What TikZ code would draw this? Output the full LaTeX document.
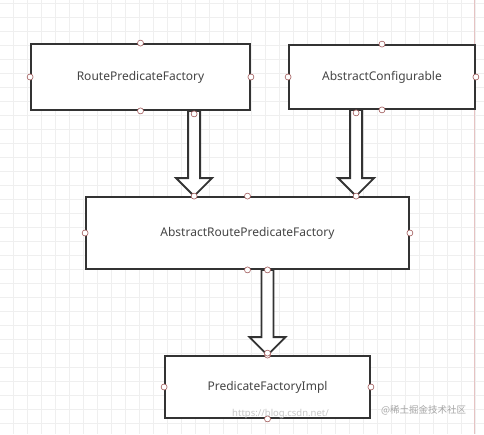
\documentclass[tikz,border=0pt]{standalone}
\usepackage{fontspec}
\setmainfont{Noto Sans}
\newfontfamily\cjkfont{Noto Sans CJK SC}
\usetikzlibrary{calc}
\definecolor{boxline}{HTML}{333333}
\definecolor{txt}{HTML}{454545}
\definecolor{portc}{HTML}{A05A5A}
\definecolor{gridc}{HTML}{EFEFEF}
\definecolor{pinkc}{HTML}{E6C3C3}
\tikzset{
  classbox/.style={draw=boxline, line width=1.8pt, fill=white, rectangle, inner sep=0pt, text=txt, font=\fontsize{12}{14}\selectfont},
  port/.style={circle, draw=portc, fill=white, line width=0.6pt, minimum size=6pt, inner sep=0pt},
  fat/.style={draw=boxline, line width=1.8pt, fill=white, line join=miter},
  gridline/.style={draw=gridc, line width=0.6pt},
  wm/.style={font=\fontsize{9.5}{10}\selectfont, inner sep=0pt}
}
\newcommand\fatarrow[2]{%
  \draw[fat] let \p1=(#1), \p2=(#2) in
    (\x1-6pt,\y1) -- (\x1+6pt,\y1) -- (\x1+6pt,\y2+18pt) -- (\x1+18pt,\y2+18pt)
    -- (\x1,\y2) -- (\x1-18pt,\y2+18pt) -- (\x1-6pt,\y2+18pt) -- cycle;}
\begin{document}
\begin{tikzpicture}[x=1pt,y=-1pt]
\useasboundingbox[fill=white] (0,0) rectangle (484,434);
% grid
\foreach \gx in {0,...,34} {\draw[gridline] (13.3+14*\gx,0) -- (13.3+14*\gx,434);}
\foreach \gy in {0,...,30} {\draw[gridline] (0,3.3+14*\gy) -- (484,3.3+14*\gy);}
\draw[pinkc, line width=0.8pt] (474.5,0) -- (474.5,434);
% boxes
\node[classbox, minimum width=219pt, minimum height=66pt] (rpf) at (140.5,77) {RoutePredicateFactory};
\node[classbox, minimum width=186pt, minimum height=64pt] (ac) at (382,77) {AbstractConfigurable};
\node[classbox, minimum width=323pt, minimum height=72pt] (arpf) at (247.5,233) {AbstractRoutePredicateFactory};
\node[classbox, minimum width=205pt, minimum height=62pt] (pfi) at (267.5,387) {PredicateFactoryImpl};
% arrow coordinates
\coordinate (a1s) at ($(rpf.south west)+(164,0)$);
\coordinate (a1e) at (a1s |- arpf.north);
\coordinate (a2s) at ($(ac.south west)+(68,0)$);
\coordinate (a2e) at (a2s |- arpf.north);
\coordinate (a3s) at (pfi.north |- arpf.south);
\coordinate (a3e) at (pfi.north);
\fatarrow{a1s}{a1e}
\fatarrow{a2s}{a2e}
\fatarrow{a3s}{a3e}
% ports
\foreach \n in {rpf,ac,arpf,pfi} {
  \node[port] at (\n.north) {};
  \node[port] at (\n.south) {};
  \node[port] at (\n.west) {};
  \node[port] at (\n.east) {};
}
\node[port] at ($(a1s)+(0,3)$) {};
\node[port] at ($(a2s)+(0,3)$) {};
\node[port] at (a1e) {};
\node[port] at (a2e) {};
\node[port] at (a3s) {};
\node[port] at ($(a3e)+(0,-2)$) {};
% watermark
\node[wm, anchor=west, text=black!22] (wm1) at (232,414) {https://blog.csdn.net/};
\node[wm, anchor=west, text=black!35] (wm2) at (381,410) {\cjkfont @稀土掘金技术社区};
\end{tikzpicture}
\end{document}
